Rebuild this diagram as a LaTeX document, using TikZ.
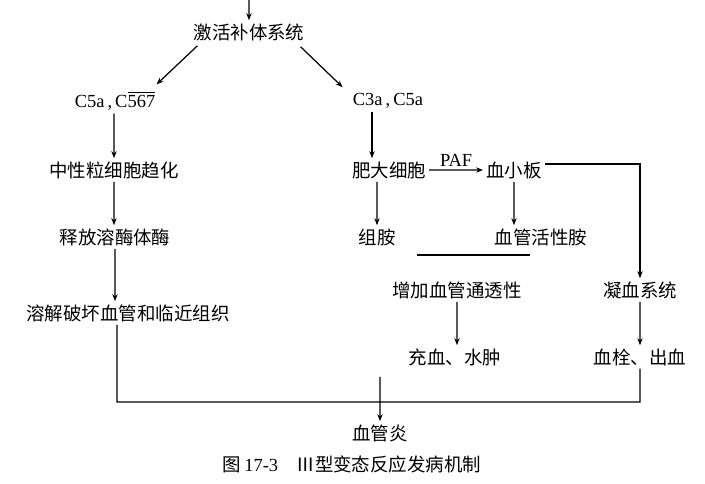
\documentclass[tikz,border=0pt]{standalone}
\usepackage{fontspec}
\setmainfont{Liberation Serif}
\newfontfamily\cjk{Noto Sans CJK SC}
\usetikzlibrary{arrows.meta}

\begin{document}
\begin{tikzpicture}[scale=0.2, line width=0.7pt, >={Stealth[length=4pt,width=3pt]}]
\tikzstyle{every node}+=[inner sep=1.5pt, font=\cjk\fontsize{10.5}{12}\selectfont]
\useasboundingbox (0,0) rectangle (70.5,-48.4);
\coordinate (top) at (24.9,0);
\draw (24.9,-3.2) node (jihuo) {激活补体系统};
\draw (11.5,-10.1) node (c5a) {\rmfamily C5a\,,\,C$\overline{\mbox{567}}$};
\draw (38.8,-10.1) node (c3a) {\rmfamily C3a\,,\,C5a};
\draw (11.4,-17.0) node (zhongxing) {中性粒细胞趋化};
\draw (11.5,-23.7) node (shifang) {释放溶酶体酶};
\draw (12.8,-31.3) node (rongjie) {溶解破坏血管和临近组织};
\draw (38.9,-17.0) node (feida) {肥大细胞};
\draw (51.4,-17.0) node (xuexiaoban) {血小板};
\draw (37.7,-23.7) node (zuan) {组胺};
\draw (54.1,-23.7) node (huoxing) {血管活性胺};
\draw (45.7,-29.0) node (zengjia) {增加血管通透性};
\draw (45.5,-35.7) node (chongxue) {充血、水肿};
\draw (64.0,-29.0) node (ningxue) {凝血系统};
\draw (64.0,-35.7) node (shuan) {血栓、出血};
\draw (38.0,-43.3) node (yan) {血管炎};
\draw (35.2,-46.4) node (caption) {图\,{\rmfamily 17-3}\quad Ⅲ型变态反应发病机制};
% left branch
\draw [->] (top) -- (jihuo);
\draw [->] ([shift={(0.7,-0.2)}]jihuo.south west) -- ([shift={(-0.2,0.4)}]c5a.north east);
\draw [->] ([shift={(-0.7,-0.3)}]jihuo.south east) -- ([shift={(-0.7,0.3)}]c3a.north west);
\draw [->] (c5a.south -| zhongxing) -- (zhongxing);
\draw [->] (zhongxing) -- (zhongxing |- shifang.north);
\draw [->] (shifang) -- (shifang |- rongjie.north);
% right branch
\draw [->] ([shift={(-1.6,0)}]c3a.south) -- ([shift={(-1.6,0)}]c3a.south |- feida.north);
\draw [->] (feida.south -| zuan) -- (zuan);
\draw [->] (feida) -- (xuexiaoban) node [midway, above, font=\rmfamily\fontsize{10.5}{12}\selectfont] {PAF};
\draw [->] (xuexiaoban) -- (xuexiaoban |- huoxing.north);
\draw [->] ([shift={(0,0.6)}]xuexiaoban.east) -| (ningxue);
\draw [->] (ningxue) -- (shuan);
\draw [->] (zengjia) -- (zengjia |- chongxue.north);
\coordinate (bra) at (41.7,-25.5);
\coordinate (brb) at (53.0,-25.5);
\draw (bra) -- (brb);
% bottom
\coordinate (bl) at (11.7,-40.2);
\coordinate (br) at (64.0,-40.2);
\draw (rongjie.south -| bl) -- (bl) -- (br) -- (shuan);
\coordinate (yanin) at (38.0,-37.7);
\draw [->] (yanin) -- (yan);
\end{tikzpicture}
\end{document}
